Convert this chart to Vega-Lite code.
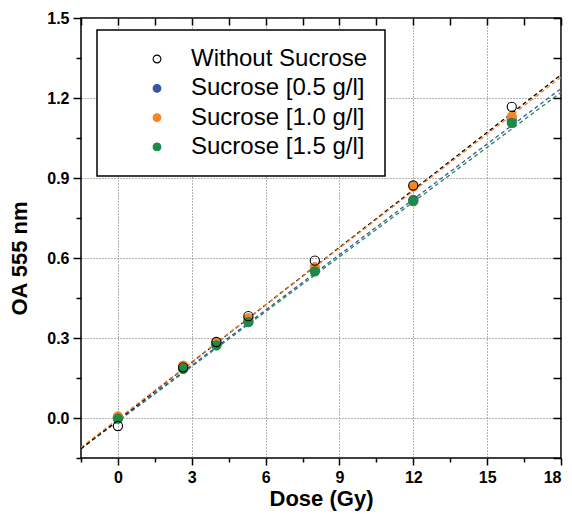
{
  "$schema": "https://vega.github.io/schema/vega-lite/v6.json",
  "width": 480,
  "height": 440,
  "autosize": "none",
  "padding": {"left": 81, "top": 18, "right": 11, "bottom": 56},
  "background": "white",
  "config": {
    "view": {"stroke": "black", "strokeWidth": 1.5},
    "font": "Liberation Sans",
    "axis": {
      "domain": false,
      "labelFont": "Liberation Sans",
      "labelFontWeight": "bold",
      "labelFontSize": 16,
      "labelColor": "black",
      "tickColor": "black",
      "tickWidth": 1.5,
      "titleFont": "Liberation Sans",
      "titleFontWeight": "bold",
      "titleFontSize": 22,
      "titleColor": "black",
      "gridColor": "#6a6a6a",
      "gridDash": [1, 2],
      "gridWidth": 1
    },
    "legend": {
      "title": null,
      "orient": "none",
      "legendX": 16,
      "legendY": 12,
      "strokeColor": "black",
      "strokeWidth": 1.5,
      "fillColor": "white",
      "padding": 17,
      "symbolOffset": 31,
      "labelOffset": 22,
      "labelFont": "Liberation Sans",
      "labelFontSize": 24,
      "labelColor": "black",
      "symbolSize": 60,
      "symbolStrokeWidth": 1.1,
      "symbolType": "circle",
      "rowPadding": 5.3,
      "labelLimit": 400
    }
  },
  "datasets": {
    "points": [
      {"series": "Sucrose [0.5 g/l]", "dose": 0, "oa": 0.0},
      {"series": "Sucrose [0.5 g/l]", "dose": 2.65, "oa": 0.188},
      {"series": "Sucrose [0.5 g/l]", "dose": 4, "oa": 0.275},
      {"series": "Sucrose [0.5 g/l]", "dose": 5.3, "oa": 0.362},
      {"series": "Sucrose [0.5 g/l]", "dose": 8, "oa": 0.553},
      {"series": "Sucrose [0.5 g/l]", "dose": 12, "oa": 0.818},
      {"series": "Sucrose [0.5 g/l]", "dose": 16, "oa": 1.118},
      {"series": "Sucrose [1.0 g/l]", "dose": 0, "oa": 0.006},
      {"series": "Sucrose [1.0 g/l]", "dose": 2.65, "oa": 0.196},
      {"series": "Sucrose [1.0 g/l]", "dose": 4, "oa": 0.284},
      {"series": "Sucrose [1.0 g/l]", "dose": 5.3, "oa": 0.374},
      {"series": "Sucrose [1.0 g/l]", "dose": 8, "oa": 0.566},
      {"series": "Sucrose [1.0 g/l]", "dose": 12, "oa": 0.868},
      {"series": "Sucrose [1.0 g/l]", "dose": 16, "oa": 1.13},
      {"series": "Sucrose [1.5 g/l]", "dose": 0, "oa": -0.002},
      {"series": "Sucrose [1.5 g/l]", "dose": 2.65, "oa": 0.184},
      {"series": "Sucrose [1.5 g/l]", "dose": 4, "oa": 0.272},
      {"series": "Sucrose [1.5 g/l]", "dose": 5.3, "oa": 0.36},
      {"series": "Sucrose [1.5 g/l]", "dose": 8, "oa": 0.55},
      {"series": "Sucrose [1.5 g/l]", "dose": 12, "oa": 0.813},
      {"series": "Sucrose [1.5 g/l]", "dose": 16, "oa": 1.107},
      {"series": "Without Sucrose", "dose": 0, "oa": -0.03},
      {"series": "Without Sucrose", "dose": 2.65, "oa": 0.19},
      {"series": "Without Sucrose", "dose": 4, "oa": 0.285},
      {"series": "Without Sucrose", "dose": 5.3, "oa": 0.382},
      {"series": "Without Sucrose", "dose": 8, "oa": 0.59},
      {"series": "Without Sucrose", "dose": 12, "oa": 0.872},
      {"series": "Without Sucrose", "dose": 16, "oa": 1.167}
    ],
    "fits": [
      {"fit": "Sucrose [1.5 g/l]", "dose": -1.5, "oa": -0.115},
      {"fit": "Sucrose [1.5 g/l]", "dose": 18, "oa": 1.221},
      {"fit": "Sucrose [0.5 g/l]", "dose": -1.5, "oa": -0.114},
      {"fit": "Sucrose [0.5 g/l]", "dose": 18, "oa": 1.235},
      {"fit": "Without Sucrose", "dose": -1.5, "oa": -0.115},
      {"fit": "Without Sucrose", "dose": 18, "oa": 1.287},
      {"fit": "Sucrose [1.0 g/l]", "dose": -1.5, "oa": -0.11},
      {"fit": "Sucrose [1.0 g/l]", "dose": 18, "oa": 1.278}
    ]
  },
  "resolve": {"axis": {"x": "independent", "y": "independent"}},
  "layer": [
    {
      "data": {"name": "fits"},
      "mark": {"type": "line", "strokeDash": [4, 3], "strokeWidth": 1.3, "clip": true},
      "encoding": {
        "x": {
          "field": "dose", "type": "quantitative",
          "scale": {"domain": [-1.5, 18], "nice": false, "zero": false},
          "axis": {"orient": "bottom", "values": [0, 3, 6, 9, 12, 15, 18], "format": "d", "grid": true, "tickSize": 7, "labelPadding": 4, "title": "Dose (Gy)", "titlePadding": 3}
        },
        "y": {
          "field": "oa", "type": "quantitative",
          "scale": {"domain": [-0.15, 1.5], "nice": false, "zero": false},
          "axis": {"orient": "left", "values": [0, 0.3, 0.6, 0.9, 1.2, 1.5], "format": ".1f", "grid": true, "tickSize": 8, "labelPadding": 4, "title": "OA 555 nm", "titlePadding": 15, "titleY": 240}
        },
        "color": {
          "field": "fit", "type": "nominal",
          "scale": {"domain": ["Sucrose [1.5 g/l]", "Sucrose [0.5 g/l]", "Without Sucrose", "Sucrose [1.0 g/l]"], "range": ["#1f8a48", "#3a55a4", "#000000", "#f5862a"]},
          "legend": null
        }
      }
    },
    {
      "data": {"name": "points"},
      "mark": {"type": "point", "shape": "circle", "size": 85, "strokeWidth": 1.1, "opacity": 1},
      "encoding": {
        "x": {
          "field": "dose", "type": "quantitative",
          "scale": {"domain": [-1.5, 18], "nice": false, "zero": false},
          "axis": {"orient": "bottom", "values": [-1.5, 1.5, 4.5, 7.5, 10.5, 13.5, 16.5], "labels": false, "grid": false, "tickSize": 4, "title": null}
        },
        "y": {
          "field": "oa", "type": "quantitative",
          "scale": {"domain": [-0.15, 1.5], "nice": false, "zero": false},
          "axis": {"orient": "left", "values": [-0.15, 0.15, 0.45, 0.75, 1.05, 1.35], "labels": false, "grid": false, "tickSize": 5, "title": null}
        },
        "stroke": {
          "field": "series", "type": "nominal",
          "scale": {"domain": ["Without Sucrose", "Sucrose [0.5 g/l]", "Sucrose [1.0 g/l]", "Sucrose [1.5 g/l]"], "range": ["#000000", "#3a55a4", "#f5862a", "#1f8a48"]}
        },
        "fill": {
          "field": "series", "type": "nominal",
          "scale": {"domain": ["Without Sucrose", "Sucrose [0.5 g/l]", "Sucrose [1.0 g/l]", "Sucrose [1.5 g/l]"], "range": ["transparent", "#3a55a4", "#f5862a", "#1f8a48"]}
        }
      }
    },
    {
      "data": {"name": "points"},
      "mark": {"type": "point", "opacity": 0},
      "encoding": {
        "x": {
          "field": "dose", "type": "quantitative",
          "scale": {"domain": [-1.5, 18], "nice": false, "zero": false},
          "axis": {"orient": "top", "values": [-1.5, 0, 1.5, 3, 4.5, 6, 7.5, 9, 10.5, 12, 13.5, 15, 16.5, 18], "labels": false, "grid": false, "tickSize": -7, "title": null}
        },
        "y": {
          "field": "oa", "type": "quantitative",
          "scale": {"domain": [-0.15, 1.5], "nice": false, "zero": false},
          "axis": {"orient": "right", "values": [-0.15, 0, 0.15, 0.3, 0.45, 0.6, 0.75, 0.9, 1.05, 1.2, 1.35, 1.5], "labels": false, "grid": false, "tickSize": -8, "title": null}
        }
      }
    }
  ]
}
